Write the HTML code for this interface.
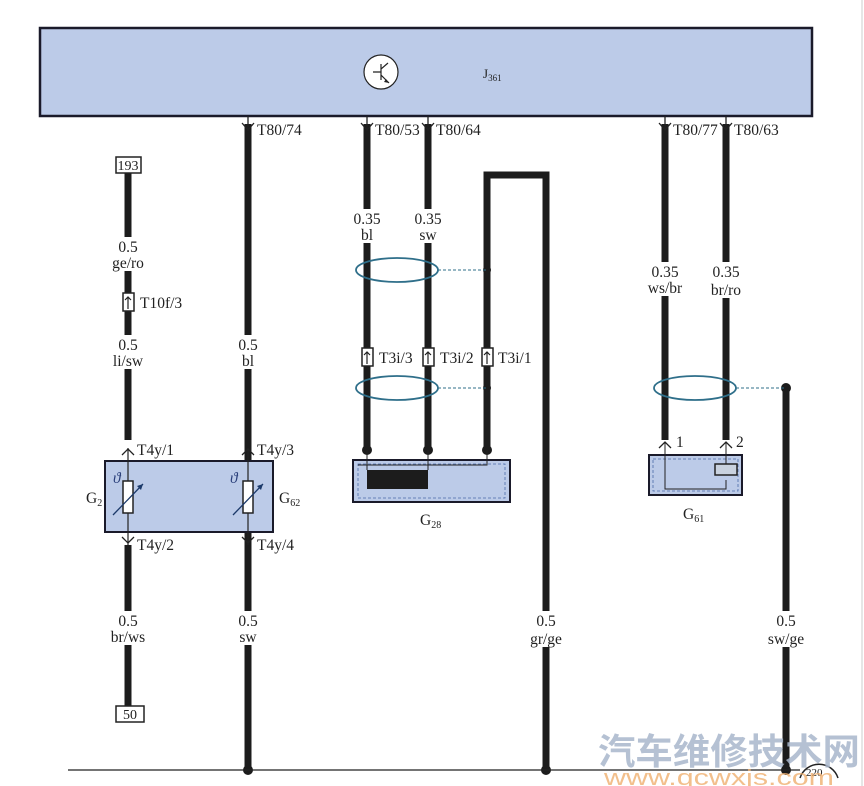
<!DOCTYPE html>
<html><head><meta charset="utf-8"><style>
html,body{margin:0;padding:0;background:#fff}
svg{display:block}
text{font-family:"Liberation Serif",serif;font-size:15.5px;fill:#222}
.c{text-anchor:middle}
</style></head><body>
<svg width="864" height="786" viewBox="0 0 864 786" xmlns="http://www.w3.org/2000/svg">
<rect x="40" y="28" width="772" height="88" fill="#bccbe8" stroke="#1a1a2a" stroke-width="2.5"/>
<circle cx="381" cy="72" r="17" fill="#fff" stroke="#222" stroke-width="1.2"/>
<path d="M373 72h8M381 64v16M381 69l7-6M381 75l8 8" stroke="#222" stroke-width="1.2" fill="none"/>
<path d="M389 83l-5-1 2-3z" fill="#222"/>
<text x="483" y="78" style="font-size:13px">J<tspan font-size="9" dy="3">361</tspan></text>
<line x1="862" y1="0" x2="862" y2="786" stroke="#ccc" stroke-width="1"/>
<g stroke="#1c1c1c" stroke-width="7" fill="none">
<path d="M128 172V440M128 545V706"/>
<path d="M248 124V770"/>
<path d="M367 124V450M428 124V450"/>
<path d="M487 450V175H546V770"/>
<path d="M665 124V440M726 124V440"/>
<path d="M786 388V770"/>
</g>
<g fill="#1c1c1c">
<circle cx="367" cy="450" r="5"/><circle cx="428" cy="450" r="5"/><circle cx="487" cy="450" r="5"/>
<circle cx="487" cy="270" r="4"/><circle cx="487" cy="388" r="4"/><circle cx="786" cy="388" r="5"/>
<circle cx="248" cy="770" r="5"/><circle cx="546" cy="770" r="5"/><circle cx="786" cy="770" r="5"/>
</g>
<line x1="68" y1="770" x2="800" y2="770" stroke="#222" stroke-width="1.2"/>
<g stroke="#222" stroke-width="1.3" fill="none">
<path d="M248 116v14M367 116v14M428 116v14M665 116v14M726 116v14"/>
<path d="M242 123l6 7 6-7M361 123l6 7 6-7M422 123l6 7 6-7M659 123l6 7 6-7M720 123l6 7 6-7"/>
<path d="M122 455l6-6 6 6M242 455l6-6 6 6M122 537l6 6 6-6M242 537l6 6 6-6M659 448l6-6 6 6M720 448l6-6 6 6"/>
</g>
<g fill="#fff">
<rect x="113" y="237" width="32" height="34"/><rect x="110" y="335" width="36" height="34"/>
<rect x="236" y="335" width="24" height="34"/><rect x="350" y="209" width="34" height="34"/>
<rect x="411" y="209" width="34" height="34"/><rect x="646" y="262" width="38" height="34"/>
<rect x="707" y="262" width="38" height="36"/><rect x="110" y="611" width="36" height="34"/>
<rect x="236" y="611" width="24" height="34"/><rect x="528" y="611" width="36" height="36"/>
<rect x="768" y="611" width="38" height="36"/>
</g>
<text class="c" x="128" y="252">0.5</text><text class="c" x="128" y="268">ge/ro</text>
<text class="c" x="128" y="350">0.5</text><text class="c" x="128" y="366">li/sw</text>
<text class="c" x="248" y="350">0.5</text><text class="c" x="248" y="366">bl</text>
<text class="c" x="367" y="224">0.35</text><text class="c" x="367" y="240">bl</text>
<text class="c" x="428" y="224">0.35</text><text class="c" x="428" y="240">sw</text>
<text class="c" x="665" y="277">0.35</text><text class="c" x="665" y="293">ws/br</text>
<text class="c" x="726" y="277">0.35</text><text class="c" x="726" y="295">br/ro</text>
<text class="c" x="128" y="626">0.5</text><text class="c" x="128" y="642">br/ws</text>
<text class="c" x="248" y="626">0.5</text><text class="c" x="248" y="642">sw</text>
<text class="c" x="546" y="626">0.5</text><text class="c" x="546" y="644">gr/ge</text>
<text class="c" x="786" y="626">0.5</text><text class="c" x="786" y="644">sw/ge</text>
<text x="257" y="135">T80/74</text><text x="375" y="135">T80/53</text><text x="436" y="135">T80/64</text>
<text x="673" y="135">T80/77</text><text x="734" y="135">T80/63</text>
<rect x="116" y="157" width="25" height="16" fill="#fff" stroke="#222" stroke-width="1.5"/>
<text class="c" x="128" y="170" style="font-size:14px">193</text>
<rect x="116" y="706" width="28" height="16" fill="#fff" stroke="#222" stroke-width="1.5"/>
<text class="c" x="130" y="719" style="font-size:14px">50</text>
<g fill="#fff" stroke="#222" stroke-width="1.5">
<rect x="123" y="293" width="11" height="18"/><rect x="362" y="348" width="11" height="18"/>
<rect x="423" y="348" width="11" height="18"/><rect x="482" y="348" width="11" height="18"/>
</g>
<g stroke="#222" stroke-width="1.2" fill="none">
<path d="M128 309v-12M125 300l3-3 3 3M367 364v-12M364 355l3-3 3 3M428 364v-12M425 355l3-3 3 3M487 364v-12M484 355l3-3 3 3"/>
</g>
<text x="140" y="308">T10f/3</text>
<text x="379" y="363">T3i/3</text><text x="440" y="363">T3i/2</text><text x="498" y="363">T3i/1</text>
<g fill="none" stroke="#2f6f8a" stroke-width="1.8">
<ellipse cx="397" cy="270" rx="41" ry="12"/><ellipse cx="397" cy="388" rx="41" ry="12"/>
<ellipse cx="695" cy="388" rx="41" ry="12"/>
</g>
<g stroke="#2f6f8a" stroke-width="1" stroke-dasharray="3,2">
<path d="M438 270H487M438 388H487M736 388H786"/>
</g>
<rect x="105" y="461" width="168" height="71" fill="#bccbe8" stroke="#1a1a2a" stroke-width="2"/>
<g stroke="#222" stroke-width="1.2"><line x1="128" y1="448" x2="128" y2="545"/><line x1="248" y1="448" x2="248" y2="545"/></g>
<rect x="123" y="481" width="10" height="32" fill="#fff" stroke="#222" stroke-width="1.5"/>
<rect x="243" y="481" width="10" height="32" fill="#fff" stroke="#222" stroke-width="1.5"/>
<g stroke="#1c3a6a" stroke-width="1.3"><path d="M113 515L143 484M233 515L263 484"/></g>
<path d="M143 484l-6 2 4 4zM263 484l-6 2 4 4z" fill="#1c3a6a"/>
<text x="113" y="483" font-style="italic" style="fill:#2a3f7a">ϑ</text>
<text x="230" y="483" font-style="italic" style="fill:#2a3f7a">ϑ</text>
<text x="137" y="455">T4y/1</text><text x="257" y="455">T4y/3</text>
<text x="137" y="550">T4y/2</text><text x="257" y="550">T4y/4</text>
<text x="86" y="503">G<tspan font-size="10" dy="3">2</tspan></text>
<text x="279" y="503">G<tspan font-size="10" dy="3">62</tspan></text>
<rect x="353" y="460" width="157" height="42" fill="#bccbe8" stroke="#1a1a2a" stroke-width="2"/>
<rect x="358" y="464" width="147" height="34" fill="none" stroke="#4a6aa8" stroke-width="0.8" stroke-dasharray="3,2"/>
<rect x="367" y="470" width="61" height="19" fill="#1c1c1c"/>
<g stroke="#222" stroke-width="1" fill="none"><path d="M367 450v20M428 450v20M487 450v15H358"/></g>
<text x="420" y="525">G<tspan font-size="10" dy="3">28</tspan></text>
<rect x="649" y="455" width="93" height="40" fill="#bccbe8" stroke="#1a1a2a" stroke-width="2"/>
<rect x="653" y="459" width="85" height="32" fill="none" stroke="#4a6aa8" stroke-width="0.8" stroke-dasharray="3,2"/>
<g stroke="#222" stroke-width="1" fill="none"><path d="M665 442v47h61v-9M726 442v22"/></g>
<rect x="715" y="464" width="22" height="11" fill="#c9d2df" stroke="#222" stroke-width="1.5"/>
<text x="676" y="447">1</text><text x="736" y="447">2</text>
<text x="683" y="519">G<tspan font-size="10" dy="3">61</tspan></text>
<path d="M800 778a20 20 0 0 1 38 0" fill="none" stroke="#222" stroke-width="1.5"/>
<text x="806" y="776" style="font-size:11px">220</text>
<text x="598" y="764" textLength="262" lengthAdjust="spacingAndGlyphs" style="font-family:'Noto Sans CJK SC',sans-serif;font-size:36px;font-weight:bold;fill:#a9b7cc;opacity:0.85">汽车维修技术网</text>
<text x="604" y="785" textLength="230" lengthAdjust="spacingAndGlyphs" style="font-family:'Liberation Sans',sans-serif;font-size:22px;fill:#f0b070;opacity:0.8">www.qcwxjs.com</text>
</svg>
</body></html>
